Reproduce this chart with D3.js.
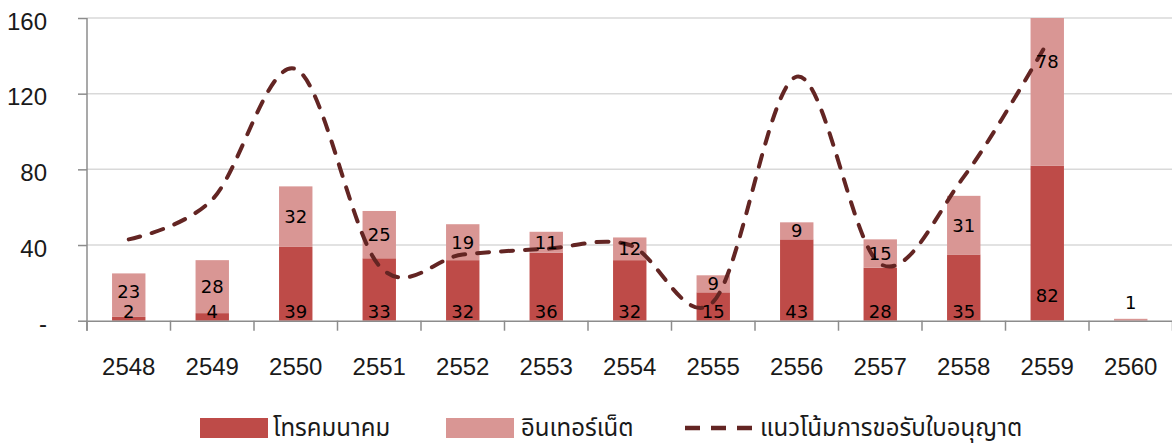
<html>
<head>
<meta charset="utf-8">
<script src="https://cdn.jsdelivr.net/npm/d3@7"></script>
<style>
  body { margin: 0; background: #fff; }
  .num { font-family: "Liberation Sans", Arial, sans-serif; font-size: 24px; fill: #1a1a1a; }
  .lbl { font-family: "DejaVu Sans", Verdana, sans-serif; font-size: 18px; fill: #000; }
  .leg { font-family: "Noto Sans Thai", "Noto Sans Thai UI", Tahoma, Loma, "Noto Sans", sans-serif; font-size: 24px; fill: #1a1a1a; }
</style>
</head>
<body>
<svg id="chart" width="1172" height="447"></svg>
<script>
// data
let years = ["2548", "2549", "2550", "2551", "2552", "2553", "2554", "2555", "2556", "2557", "2558", "2559", "2560"]
let telecom = [2, 4, 39, 33, 32, 36, 32, 15, 43, 28, 35, 82, 0]
let internet = [23, 28, 32, 25, 19, 11, 12, 9, 9, 15, 31, 78, 1]
let trend = [43, 64, 133, 29, 35, 38, 40, 10, 129, 30, 76, 147]   // no point for 2560
let yTicks = [0, 40, 80, 120, 160]
let names = ["โทรคมนาคม", "อินเทอร์เน็ต", "แนวโน้มการขอรับใบอนุญาต"]

let colTel = "#be4b48", colNet = "#d99694", colLine = "#632523", axisCol = "#8c8c8c"

let svg = d3.select("#chart")
let left = 87, right = 1172.5, plotTop = 18, base = 320.7

let x = d3.scaleBand().domain(years).range([left, right]).paddingInner(0.6).paddingOuter(0.3)
let y = d3.scaleLinear().domain([0, 160]).range([base, plotTop])
let cx = d => x(d) + x.bandwidth() / 2

// gridlines
svg.append("g").selectAll("line").data(yTicks.filter(d => d > 0)).enter().append("line")
    .attr("x1", left).attr("x2", right)
    .attr("y1", d => y(d)).attr("y2", d => y(d))
    .attr("stroke", "#d9d9d9").attr("stroke-width", 1.5)

// y axis
let yAxis = d3.axisLeft(y).tickValues(yTicks).tickSize(9).tickPadding(31)
    .tickFormat(d => d === 0 ? "-" : d)
let yg = svg.append("g").attr("transform", `translate(${left},0)`).call(yAxis)
yg.attr("font-family", null).attr("font-size", null)
yg.select(".domain").remove()
yg.selectAll(".tick line").attr("stroke", axisCol).attr("stroke-width", 1.5)
yg.selectAll("text").attr("class", "num").attr("dy", "0.47em").attr("fill", null)
svg.append("line").attr("x1", left).attr("x2", left).attr("y1", plotTop).attr("y2", base + 10)
    .attr("stroke", axisCol).attr("stroke-width", 1.5)

// stacked bars
let stack = d3.stack().keys(["tel", "net"])
let rows = years.map((d, i) => ({ year: d, tel: telecom[i], net: internet[i] }))
let series = stack(rows)
let colors = [colTel, colNet]
series.forEach((s, k) => {
    svg.append("g").selectAll("rect").data(s).enter().append("rect")
        .attr("x", d => x(d.data.year))
        .attr("width", x.bandwidth())
        .attr("y", d => y(d[1]))
        .attr("height", d => y(d[0]) - y(d[1]))
        .attr("fill", colors[k])
})

// x axis
let xAxis = d3.axisBottom(x).tickSize(0).tickPadding(37).tickSizeOuter(0)
let xg = svg.append("g").attr("transform", `translate(0,${base})`).call(xAxis)
xg.attr("font-family", null).attr("font-size", null)
xg.select(".domain").attr("stroke", axisCol).attr("stroke-width", 1.5)
xg.selectAll("text").attr("class", "num").attr("fill", null)
xg.selectAll(".bound").data(d3.range(years.length + 1)).enter().append("line")
    .attr("x1", i => left + i * x.step()).attr("x2", i => left + i * x.step())
    .attr("y1", 0).attr("y2", 10)
    .attr("stroke", axisCol).attr("stroke-width", 1.5)

// trend line
let line = d3.line()
    .x((d, i) => cx(years[i]))
    .y(d => y(d))
    .curve(d3.curveCardinal.tension(0))
svg.append("path").datum(trend)
    .attr("d", line)
    .attr("fill", "none")
    .attr("stroke", colLine)
    .attr("stroke-width", 4)
    .attr("stroke-dasharray", "12,12")
    .attr("stroke-linecap", "round")

// data labels
let telY = d => base - 9 - (d.data.tel > 60 ? 16 : 0)
svg.append("g").selectAll("text").data(series[0].filter(d => d.data.tel > 0)).enter().append("text")
    .attr("class", "lbl")
    .attr("x", d => cx(d.data.year))
    .attr("y", telY)
    .attr("text-anchor", "middle")
    .attr("dominant-baseline", "central")
    .text(d => d.data.tel)

svg.append("g").selectAll("text").data(series[1].filter(d => d.data.net > 0)).enter().append("text")
    .attr("class", "lbl")
    .attr("x", d => cx(d.data.year))
    .attr("y", d => {
        let t = y(d[1]), b = y(d[0])
        if (b - t < 6) return t - 16
        let c = Math.min((t + b) / 2, t + 43)
        return Math.min(c, telY(d) - 20)
    })
    .attr("text-anchor", "middle")
    .attr("dominant-baseline", "central")
    .text(d => d.data.net)

// legend
let leg = svg.append("g")
leg.append("rect").attr("x", 200).attr("y", 418).attr("width", 68).attr("height", 20).attr("fill", colTel)
leg.append("text").attr("class", "leg").attr("x", 273).attr("y", 436).text(names[0])
leg.append("rect").attr("x", 446).attr("y", 418).attr("width", 68).attr("height", 20).attr("fill", colNet)
leg.append("text").attr("class", "leg").attr("x", 521).attr("y", 436).text(names[1])
leg.append("line").attr("x1", 685).attr("x2", 752).attr("y1", 428).attr("y2", 428)
    .attr("stroke", colLine).attr("stroke-width", 4.5).attr("stroke-dasharray", "15,11")
leg.append("text").attr("class", "leg").attr("x", 760).attr("y", 436).text(names[2])
</script>
</body>
</html>
